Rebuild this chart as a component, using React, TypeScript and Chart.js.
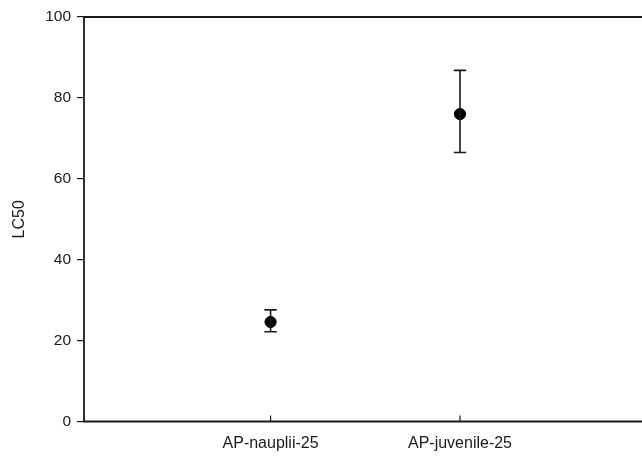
import React, { useEffect, useRef } from "react";
import { Chart, registerables } from "chart.js";

Chart.register(...registerables);

const categories = ["AP-nauplii-25", "AP-juvenile-25"];
const means = [24.6, 76.0];
const lower = [22.2, 66.5];
const upper = [27.6, 86.8];
const yTicks = [0, 20, 40, 60, 80, 100];

const FONT = "Liberation Sans, Arial, sans-serif";

const errorBarPlugin = {
  id: "errorBars",
  afterDatasetsDraw(chart: any) {
    const { ctx, scales } = chart;
    const xs = scales.x;
    const ys = scales.y;
    ctx.save();
    ctx.strokeStyle = "#1a1a1a";
    ctx.lineWidth = 1.6;
    categories.forEach((_, i) => {
      const x = xs.getPixelForValue(i + 1);
      const yl = ys.getPixelForValue(lower[i]);
      const yu = ys.getPixelForValue(upper[i]);
      const cap = 6.2;
      ctx.beginPath();
      ctx.moveTo(x, yl);
      ctx.lineTo(x, yu);
      ctx.moveTo(x - cap, yl);
      ctx.lineTo(x + cap, yl);
      ctx.moveTo(x - cap, yu);
      ctx.lineTo(x + cap, yu);
      ctx.stroke();
    });
    ctx.restore();
  },
  beforeDatasetsDraw(chart: any) {
    const { ctx, chartArea, scales } = chart;
    ctx.save();
    ctx.strokeStyle = "#1a1a1a";
    ctx.lineWidth = 1.8;
    ctx.beginPath();
    ctx.rect(chartArea.left, chartArea.top, chartArea.right - chartArea.left, chartArea.bottom - chartArea.top);
    ctx.stroke();
    ctx.lineWidth = 1.2;
    categories.forEach((_, i) => {
      const x = scales.x.getPixelForValue(i + 1);
      ctx.beginPath();
      ctx.moveTo(x, chartArea.bottom);
      ctx.lineTo(x, chartArea.bottom - 6);
      ctx.stroke();
    });
    ctx.restore();
  },
};

export default function App() {
  const ref = useRef<HTMLCanvasElement>(null);
  useEffect(() => {
    document.body.style.margin = "0";
    document.body.style.overflow = "hidden";
    const chart = new Chart(ref.current!, {
      type: "scatter",
      data: {
        datasets: [
          {
            data: means.map((m, i) => ({ x: i + 1, y: m })),
            backgroundColor: "#000",
            borderColor: "#000",
            pointRadius: 5.6,
            pointHoverRadius: 5.6,
          },
        ],
      },
      options: {
        animation: false,
        responsive: false,
        layout: { padding: { top: 17, right: 2.5, left: 0, bottom: 0 } },
        plugins: { legend: { display: false }, tooltip: { enabled: false } },
        scales: {
          x: {
            type: "linear",
            min: 0.015,
            max: 3,
            afterBuildTicks: (scale: any) => {
              scale.ticks = categories.map((_, i) => ({ value: i + 1 }));
            },
            afterFit: (scale: any) => {
              scale.height = 34.5;
            },
            grid: { display: false, drawTicks: false },
            border: { display: false },
            ticks: {
              padding: 12,
              color: "#1a1a1a",
              font: { family: FONT, size: 16 },
              callback: (v: any) => categories[Math.round(Number(v)) - 1] ?? "",
              maxRotation: 0,
              autoSkip: false,
            },
          },
          y: {
            min: 0,
            max: 100,
            afterBuildTicks: (scale: any) => {
              scale.ticks = yTicks.map((v) => ({ value: v }));
            },
            afterFit: (scale: any) => {
              scale.width = 84;
            },
            grid: { drawOnChartArea: false, drawTicks: true, tickLength: 7, color: "#1a1a1a", lineWidth: 1.2 },
            border: { display: false },
            ticks: {
              padding: 6,
              color: "#1a1a1a",
              font: { family: FONT, size: 15.5 },
            },
            title: {
              display: true,
              text: "LC50",
              color: "#1a1a1a",
              font: { family: FONT, size: 16 },
              padding: { top: 10, bottom: 0 },
            },
          },
        },
      },
      plugins: [errorBarPlugin],
    });
    return () => chart.destroy();
  }, []);
  return (
    <div style={{ width: 642, height: 456, overflow: "hidden", background: "#fff" }}>
      <canvas ref={ref} width={656} height={456} style={{ display: "block" }} />
    </div>
  );
}
